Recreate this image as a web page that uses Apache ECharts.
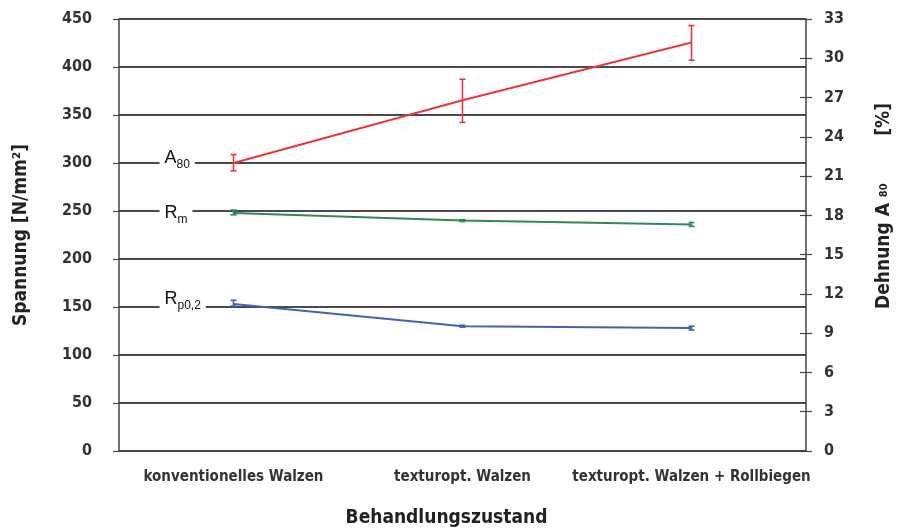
<!DOCTYPE html>
<html>
<head>
<meta charset="utf-8">
<script src="https://cdn.jsdelivr.net/npm/echarts@6/dist/echarts.min.js"></script>
<style>
  html, body { margin: 0; padding: 0; background: #fff; }
  #chart { width: 904px; height: 530px; }
</style>
</head>
<body>
<div id="chart"></div>
<script>
// Treatment states on the category axis
const categories = ['konventionelles Walzen', 'texturopt. Walzen', 'texturopt. Walzen + Rollbiegen'];

// Elongation A80 [%] (right axis) with scatter range
const a80 = [22.0, 26.8, 31.2];
const a80Range = [[21.4, 22.65], [25.1, 28.4], [29.85, 32.5]];

// Tensile strength Rm [N/mm²] (left axis)
const rm = [248, 240, 236];
const rmRange = [[246, 251], [239, 241], [234, 238]];

// Yield strength Rp0,2 [N/mm²] (left axis)
const rp02 = [153, 130, 128];
const rp02Range = [[151, 157], [129, 131], [126, 130]];

// Axis scales
const stressAxis = { min: 0, max: 450, interval: 50 };
const strainAxis = { min: 0, max: 33, interval: 3 };

const FONT = '"DejaVu Sans Condensed", "Liberation Sans Narrow", "DejaVu Sans", sans-serif';
const RED = '#e8373f', GREEN = '#2b8a55', BLUE = '#3f63b5';

function errorBars(color) {
  return function (params, api) {
    const x = api.value(0);
    const lo = api.coord([x, api.value(1)]);
    const hi = api.coord([x, api.value(2)]);
    const w = 3;
    const style = { stroke: color, lineWidth: 1.6 };
    return {
      type: 'group',
      children: [
        { type: 'line', shape: { x1: hi[0], y1: hi[1], x2: lo[0], y2: lo[1] }, style },
        { type: 'line', shape: { x1: hi[0] - w, y1: hi[1], x2: hi[0] + w, y2: hi[1] }, style },
        { type: 'line', shape: { x1: lo[0] - w, y1: lo[1], x2: lo[0] + w, y2: lo[1] }, style }
      ]
    };
  };
}

function rangeData(ranges) {
  return ranges.map((r, i) => [i, r[0], r[1]]);
}

function seriesLabel(value, text, dy) {
  return {
    symbol: 'circle',
    symbolSize: 0,
    silent: true,
    data: [{ coord: [0, value] }],
    label: {
      show: true,
      position: [-74, dy],
      align: 'left',
      verticalAlign: 'middle',
      backgroundColor: '#fff',
      padding: [0, 5, 0, 5],
      formatter: text,
      rich: {
        b: { fontFamily: 'Liberation Sans, Arial, sans-serif', fontSize: 18, color: '#111', lineHeight: 26 },
        s: { fontFamily: 'Liberation Sans, Arial, sans-serif', fontSize: 12, color: '#111', lineHeight: 12, verticalAlign: 'bottom' }
      }
    }
  };
}

const chart = echarts.init(document.getElementById('chart'), null, { renderer: 'canvas' });

const axisLineStyle = { color: '#444', width: 1.5 };
const tickLabel = { fontFamily: FONT, fontSize: 16, fontWeight: 'bold', color: '#333' };

chart.setOption({
  backgroundColor: '#fff',
  animation: false,
  grid: { left: 119, right: 98, top: 19, bottom: 79, outerBoundsMode: 'none', containLabel: false },
  xAxis: [
    {
      type: 'category',
      data: categories,
      boundaryGap: true,
      axisLine: { lineStyle: axisLineStyle },
      axisTick: { alignWithLabel: true, interval: 0, length: 6, lineStyle: { color: '#444', width: 1.2 } },
      axisLabel: { interval: 0, fontFamily: FONT, fontSize: 15, fontWeight: 'bold', color: '#333', margin: 19 },
      name: 'Behandlungszustand',
      nameLocation: 'middle',
      nameGap: 58,
      nameTextStyle: { fontFamily: FONT, fontSize: 19, fontWeight: 'bold', color: '#222', padding: [0, 32, 0, 0] }
    },
    {
      type: 'category',
      data: categories,
      position: 'bottom',
      boundaryGap: true,
      axisLine: { show: false },
      axisTick: { alignWithLabel: true, interval: 0, inside: true, length: 5, lineStyle: { color: '#444', width: 1.2 } },
      axisLabel: { show: false }
    }
  ],
  yAxis: [
    {
      type: 'value',
      min: stressAxis.min, max: stressAxis.max, interval: stressAxis.interval,
      position: 'left',
      axisLine: { show: true, lineStyle: axisLineStyle },
      axisTick: { show: true, length: 6, lineStyle: { color: '#444', width: 1.2 } },
      axisLabel: Object.assign({ margin: 27 }, tickLabel),
      splitLine: { show: true, lineStyle: { color: '#4a4a4a', width: 2 } },
      name: 'Spannung [N/mm²]',
      nameLocation: 'middle',
      nameGap: 88,
      nameTextStyle: { fontFamily: FONT, fontSize: 19, fontWeight: 'bold', color: '#222' }
    },
    {
      type: 'value',
      min: strainAxis.min, max: strainAxis.max, interval: strainAxis.interval,
      position: 'right',
      axisLine: { show: true, lineStyle: axisLineStyle },
      axisTick: { show: true, length: 6, lineStyle: { color: '#444', width: 1.2 } },
      axisLabel: Object.assign({ margin: 18 }, tickLabel),
      splitLine: { show: false },
      name: '{t|Dehnung A }{s|80}{t|        [%]}',
      nameLocation: 'middle',
      nameRotate: 90,
      nameGap: 66,
      nameTextStyle: {
        padding: [0, 0, 0, 58],
        rich: {
          t: { fontFamily: FONT, fontSize: 19, fontWeight: 'bold', color: '#222', lineHeight: 24 },
          s: { fontFamily: FONT, fontSize: 11, fontWeight: 'bold', color: '#222', lineHeight: 24, verticalAlign: 'middle' }
        }
      }
    },
    {
      type: 'value',
      min: strainAxis.min, max: strainAxis.max, interval: strainAxis.interval,
      position: 'right',
      axisLine: { show: false },
      axisTick: { show: true, inside: true, length: 6, lineStyle: { color: '#444', width: 1.2 } },
      axisLabel: { show: false },
      splitLine: { show: false }
    }
  ],
  series: [
    {
      name: 'Rm',
      type: 'line',
      yAxisIndex: 0,
      data: rm,
      symbol: 'none',
      lineStyle: { color: GREEN, width: 2 },
      z: 3,
      markPoint: seriesLabel(rm[0], '{b|R}{s|m}', 0)
    },
    {
      name: 'Rp0,2',
      type: 'line',
      yAxisIndex: 0,
      data: rp02,
      symbol: 'none',
      lineStyle: { color: BLUE, width: 2 },
      z: 3,
      markPoint: seriesLabel(rp02[0], '{b|R}{s|p0,2}', -5)
    },
    {
      name: 'A80',
      type: 'line',
      yAxisIndex: 1,
      data: a80,
      symbol: 'none',
      lineStyle: { color: RED, width: 2 },
      z: 3,
      markPoint: seriesLabel(a80[0], '{b|A}{s|80}', -5)
    },
    {
      type: 'custom',
      yAxisIndex: 1,
      renderItem: errorBars(RED),
      encode: { x: 0, y: [1, 2] },
      data: rangeData(a80Range),
      z: 4
    },
    {
      type: 'custom',
      yAxisIndex: 0,
      renderItem: errorBars(GREEN),
      encode: { x: 0, y: [1, 2] },
      data: rangeData(rmRange),
      z: 4
    },
    {
      type: 'custom',
      yAxisIndex: 0,
      renderItem: errorBars(BLUE),
      encode: { x: 0, y: [1, 2] },
      data: rangeData(rp02Range),
      z: 4
    }
  ]
});
</script>
</body>
</html>
